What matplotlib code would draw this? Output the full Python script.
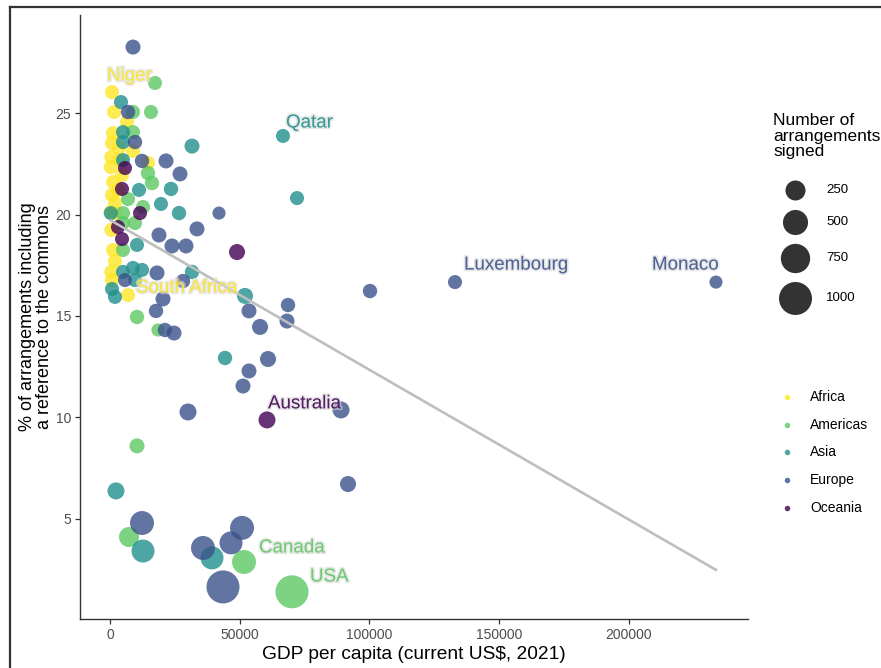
import matplotlib
matplotlib.use('Agg')
import matplotlib.pyplot as plt
import matplotlib.patheffects as pe
import numpy as np

plt.rcParams['font.family'] = ['Liberation Sans', 'DejaVu Sans']

# ---------------- data ----------------
regions = ['Africa', 'Americas', 'Asia', 'Europe', 'Oceania']
region_colors = ['#FDE725', '#5DC863', '#21908C', '#3B528B', '#440154']

gdp_africa = [770, 1540, 6550, 1160, 770, 3470, 8870, 500, 14650, 300, 1160, 770,
              1930, 300, 1930, 500, 1160, 1930, 500, 770, 6940, 3855, 3080, 4630]
pct_africa = [26.03, 25.05, 24.56, 24.01, 23.52, 23.28, 23.13, 22.83, 22.54, 22.34, 21.60, 20.96,
              20.57, 20.12, 20.07, 19.24, 18.25, 17.71, 17.17, 16.77, 16.03, 22.68, 21.21, 21.95]
n_africa = [30] * 24

gdp_americas = [17350, 8870, 15800, 8870, 14650, 16190, 6940, 12720, 5010, 5010, 9640, 5010,
                10410, 18500, 10410, 7320, 51660, 70160]
pct_americas = [26.48, 25.05, 25.05, 24.06, 22.04, 21.55, 20.76, 20.37, 20.07, 19.58, 19.58, 18.25,
                14.95, 14.31, 8.60, 4.11, 2.88, 1.41]
n_americas = [30, 30, 30, 30, 40, 40, 30, 30, 30, 30, 30, 30, 40, 2, 60, 250, 440, 1000]

gdp_asia = [4240, 5010, 5010, 31610, 5010, 23520, 11180, 19660, 26600, 300, 66690, 72090,
            10410, 5010, 8870, 12340, 9640, 770, 1930, 31610, 52040, 44330, 2310, 12720, 39320]
pct_asia = [25.54, 24.06, 23.57, 23.37, 22.68, 21.26, 21.21, 20.52, 20.07, 20.07, 23.87, 20.81,
            18.50, 17.17, 17.37, 17.27, 16.77, 16.33, 15.94, 17.17, 15.99, 12.93, 6.38, 3.42, 3.08]
n_asia = [30, 30, 30, 60, 30, 40, 30, 30, 40, 30, 30, 30,
          30, 30, 30, 30, 30, 30, 30, 40, 95, 40, 130, 390, 390]

gdp_europe = [8870, 6940, 9640, 12340, 21590, 26990, 42020, 33540, 18890, 23900, 29300, 18120,
              28140, 20430, 17730, 21200, 24670, 53580, 57830, 68620, 68230, 60910, 53580, 51270,
              30070, 89050, 100230, 133000, 233600, 91750, 12340, 35850, 46650, 50890, 43560, 5780]
pct_europe = [28.25, 25.05, 23.57, 22.64, 22.64, 22.00, 20.07, 19.29, 18.99, 18.45, 18.45, 17.12,
              16.72, 15.84, 15.25, 14.31, 14.16, 15.25, 14.46, 15.54, 14.75, 12.88, 12.29, 11.55,
              10.27, 10.37, 16.23, 16.67, 16.67, 6.72, 4.80, 3.57, 3.82, 4.56, 1.65, 16.77]
n_europe = [60, 40, 40, 40, 60, 60, 2, 60, 60, 60, 60, 60,
            40, 60, 40, 40, 60, 60, 95, 40, 60, 95, 60, 60,
            130, 130, 40, 30, 2, 95, 440, 440, 390, 440, 1000, 30]

gdp_oceania = [5780, 4630, 11570, 3080, 4630, 48960, 60520]
pct_oceania = [22.29, 21.26, 20.07, 19.38, 18.79, 18.15, 9.88]
n_oceania = [30, 30, 30, 30, 30, 95, 130]

label_names = ['Niger', 'Qatar', 'Luxembourg', 'Monaco', 'South Africa', 'Australia', 'Canada', 'USA']
label_regions = ['Africa', 'Asia', 'Europe', 'Europe', 'Africa', 'Oceania', 'Americas', 'Americas']
label_x = [-1160, 67850, 136470, 208940, 10020, 60910, 57440, 77100]
label_y = [26.82, 24.51, 17.51, 17.51, 16.38, 10.67, 3.57, 2.14]

trend_intercept = 19.73
trend_slope = -7.38e-5

size_breaks = [250, 500, 750, 1000]
x_ticks = [0, 50000, 100000, 150000, 200000]
y_ticks = [5, 10, 15, 20, 25]

gdp = [gdp_africa, gdp_americas, gdp_asia, gdp_europe, gdp_oceania]
pct = [pct_africa, pct_americas, pct_asia, pct_europe, pct_oceania]
nsig = [n_africa, n_americas, n_asia, n_europe, n_oceania]


def area(n):
    return 0.5184 * (170 + 0.919 * np.asarray(n, dtype=float))


# ---------------- figure ----------------
W, H = 881, 668
fig = plt.figure(figsize=(W / 100, H / 100), dpi=100)
fig.patch.set_facecolor('white')

ax = fig.add_axes([80 / W, 1 - 619 / H, 668 / W, 604 / H])
for r, col, gx, py, nn in zip(regions, region_colors, gdp, pct, nsig):
    ax.scatter(gx, py, s=area(nn), color=col, alpha=0.8, linewidths=0, zorder=2)

all_x = np.concatenate([np.asarray(g, dtype=float) for g in gdp])
xl = np.array([all_x.min(), all_x.max()])
ax.plot(xl, trend_intercept + trend_slope * xl, color='#BEBEBE', lw=1.9, zorder=3)

cmap = dict(zip(regions, region_colors))
for name, reg, lx, ly in zip(label_names, label_regions, label_x, label_y):
    ax.text(lx, ly, name, color=cmap[reg], fontsize=13.5, ha='left', va='center', alpha=0.85,
            zorder=4,
            path_effects=[pe.withStroke(linewidth=2.5, foreground='#d9d9d9', alpha=0.6)])

ax.set_xlim(-11565, 245950)
ax.set_ylim(0.07, 29.83)
ax.set_xticks(x_ticks)
ax.set_xticklabels([str(v) for v in x_ticks])
ax.set_yticks(y_ticks)
ax.set_yticklabels([str(v) for v in y_ticks])
for s in ['top', 'right']:
    ax.spines[s].set_visible(False)
for s in ['left', 'bottom']:
    ax.spines[s].set_color('#333333')
    ax.spines[s].set_linewidth(1.0)
ax.tick_params(axis='both', colors='#333333', length=3.5, width=0.9, labelsize=10,
               labelcolor='#4D4D4D', pad=3)
ax.set_xlabel('GDP per capita (current US\\$, 2021)', fontsize=13.8, labelpad=3)
ax.set_ylabel('% of arrangements including\na reference to the commons', fontsize=13,
              labelpad=1.5, linespacing=1.0)

# ---------------- legends & frame (pixel layout axes) ----------------
lax = fig.add_axes([0, 0, 1, 1], zorder=-1)
lax.set_xlim(0, W)
lax.set_ylim(H, 0)
lax.axis('off')
lax.plot([10, 10], [7, H], color='#333333', lw=1.6)
lax.plot([10, W], [7, 7], color='#333333', lw=1.6)

lax2 = fig.add_axes([0, 0, 1, 1], zorder=5)
lax2.set_xlim(0, W)
lax2.set_ylim(H, 0)
lax2.axis('off')
lax2.patch.set_visible(False)

lax2.text(773, 113, 'Number of\narrangements\nsigned', fontsize=12.5, ha='left', va='top',
          linespacing=1.05, color='black')
size_key_y = [190, 222, 258, 298]
for b, yy in zip(size_breaks, size_key_y):
    lax2.scatter([795], [yy], s=area([b]), color='#333333', linewidths=0)
    lax2.text(826, yy, str(b), fontsize=9.5, ha='left', va='center', color='black')

color_key_y = [397, 425, 452, 480, 508]
for r, col, yy in zip(regions, region_colors, color_key_y):
    lax2.scatter([787], [yy], s=16, color=col, alpha=0.8, linewidths=0)
    lax2.text(810, yy, r, fontsize=10, ha='left', va='center', color='black')

fig.savefig('out.png', dpi=100)
